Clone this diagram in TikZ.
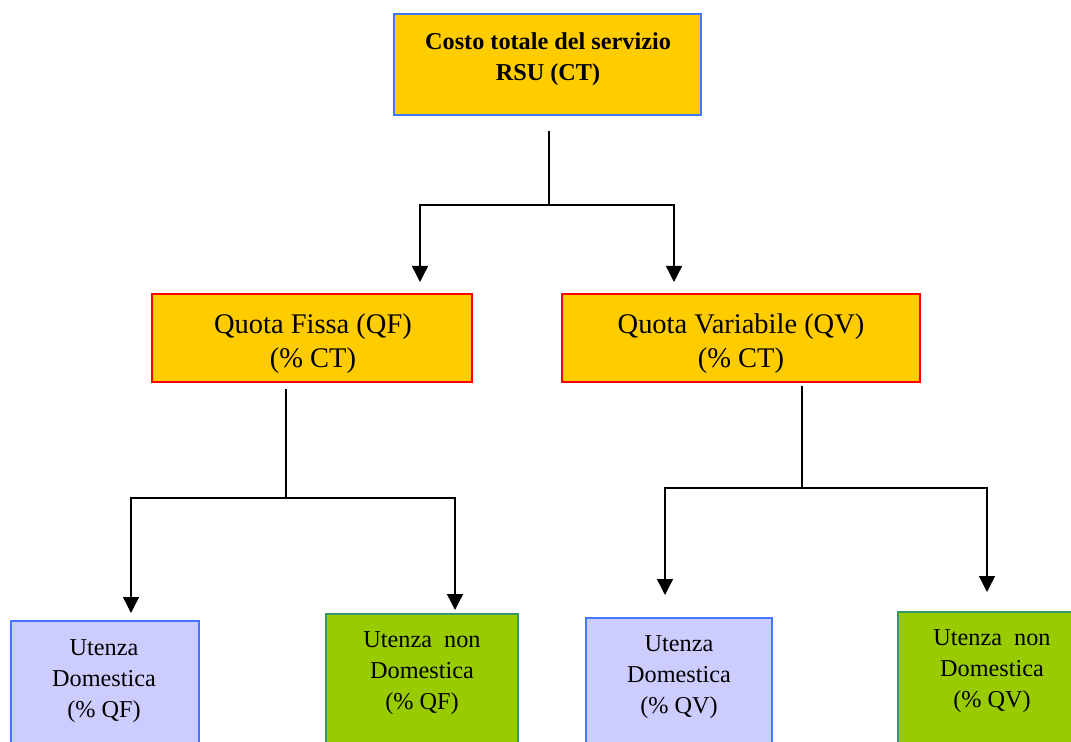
\documentclass[tikz,border=0pt]{standalone}
\usepackage{fontspec}
\setmainfont{Liberation Serif}
\usetikzlibrary{arrows.meta,calc,positioning}

\definecolor{boxgold}{HTML}{FFCC00}
\definecolor{boxlilac}{HTML}{CCCCFF}
\definecolor{boxlime}{HTML}{99CC00}
\definecolor{edgeblue}{HTML}{4477FF}
\definecolor{edgered}{HTML}{FF0000}
\definecolor{edgegreen}{HTML}{339966}

\tikzset{
  box/.style={draw, line width=1.5pt, inner sep=0pt},
  costbox/.style={box, fill=boxgold, draw=edgeblue},
  quotabox/.style={box, fill=boxgold, draw=edgered},
  dombox/.style={box, fill=boxlilac, draw=edgeblue},
  nondombox/.style={box, fill=boxlime, draw=edgegreen},
  toptext/.style={align=center, font=\fontsize{13.8}{17.6}\selectfont\bfseries},
  midtext/.style={align=center, font=\fontsize{16.2}{19.4}\selectfont},
  lowtext/.style={align=center, font=\fontsize{13.8}{17.6}\selectfont},
  link/.style={line width=0.8pt},
  trunk/.style={line width=1.2pt},
  arr/.style={link, -{Triangle[width=0.32cm,length=0.32cm]}}
}

\begin{document}
\begin{tikzpicture}[x=0.02cm,y=-0.02cm]
\clip (0,0) rectangle (1071,742);
\fill[white] (0,0) rectangle (1071,742);

% top level
\node[costbox, minimum width=6.14cm, minimum height=2.02cm] (ct) at (547.5,64.5) {};
\node[toptext] (cttxt) at (548,59.5) {Costo totale del servizio\\RSU (CT)};

% quote
\node[quotabox, minimum width=6.4cm, minimum height=1.76cm] (qf) at (312,338) {};
\node[midtext] (qftxt) at (313,344) {Quota Fissa (QF)\\(\% CT)};
\node[quotabox, minimum width=7.16cm, minimum height=1.76cm] (qv) at (741,338) {};
\node[midtext] (qvtxt) at (741,344) {Quota Variabile (QV)\\(\% CT)};

% utenze
\node[dombox, minimum width=3.76cm, minimum height=3.58cm] (udqf) at (105,710.5) {};
\node[lowtext] (udqftxt) at (104,681) {Utenza\\Domestica\\(\% QF)};
\node[nondombox, minimum width=3.84cm, minimum height=3.72cm] (undqf) at (422,707) {};
\node[lowtext] (undqftxt) at (422,673) {Utenza~ non\\Domestica\\(\% QF)};
\node[dombox, minimum width=3.72cm, minimum height=3.64cm] (udqv) at (679,709) {};
\node[lowtext] (udqvtxt) at (679,677.5) {Utenza\\Domestica\\(\% QV)};
\node[nondombox, minimum width=4.04cm, minimum height=3.76cm] (undqv) at (999,706) {};
\node[lowtext] (undqvtxt) at (992,671) {Utenza~ non\\Domestica\\(\% QV)};

% split points and arrow ends
\coordinate (ctsplit) at (549,205);
\coordinate (qfin) at (420,282);
\coordinate (qvin) at (674,282);
\coordinate (qfsplit) at (286,498);
\coordinate (udqfin) at (131,613);
\coordinate (undqfin) at (455,610);
\coordinate (qvsplit) at (802,488);
\coordinate (udqvin) at (665,595);
\coordinate (undqvin) at (987,592);

\draw[trunk, shorten <=0.3cm] (ct.south -| ctsplit) -- (ctsplit);
\draw[arr] (ctsplit) -| (qfin);
\draw[arr] (ctsplit) -| (qvin);

\draw[trunk, shorten <=0.12cm] (qf.south -| qfsplit) -- (qfsplit);
\draw[arr] (qfsplit) -| (udqfin);
\draw[arr] (qfsplit) -| (undqfin);

\draw[trunk, shorten <=0.06cm] (qv.south -| qvsplit) -- (qvsplit);
\draw[arr] (qvsplit) -| (udqvin);
\draw[arr] (qvsplit) -| (undqvin);
\end{tikzpicture}
\end{document}
